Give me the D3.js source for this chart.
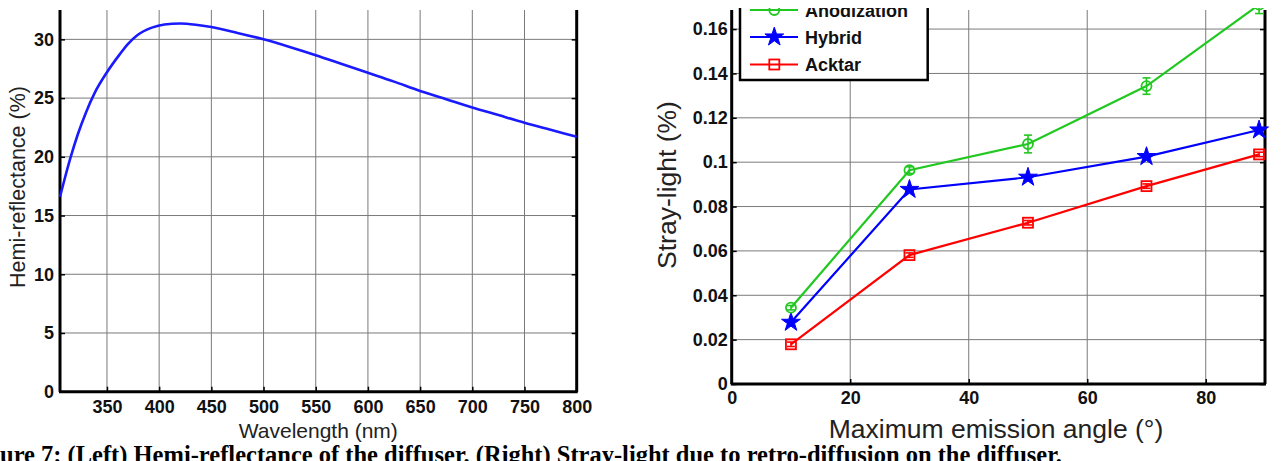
<!DOCTYPE html>
<html><head><meta charset="utf-8">
<script src="https://cdn.jsdelivr.net/npm/d3@7"></script>
<style>body{margin:0;background:#fff}svg{display:block}</style>
</head><body>
<svg id="c" width="1282" height="461"></svg>
<script>
// ---- Left panel data ----
const wavelengths = [305,310,315,322,330,338,350,362,370,379,393,405,420,435,450,475,500,525,550,575,600,625,650,675,700,725,750,775,800];
const reflectance = [16.6,18.3,19.9,21.9,23.8,25.4,27.2,28.7,29.6,30.35,31.0,31.27,31.35,31.25,31.05,30.55,30.0,29.35,28.65,27.9,27.15,26.4,25.6,24.9,24.2,23.55,22.9,22.3,21.7];
const leftXTicks = [350,400,450,500,550,600,650,700,750,800];
const leftYTicks = [0,5,10,15,20,25,30];

// ---- Right panel data ----
const angles = [10,30,50,70,89];
const anodization = [0.0344,0.0964,0.1082,0.1343,0.171];
const anodizationErr = [0.001,0.0015,0.004,0.0037,0.004];
const hybrid = [0.0278,0.0877,0.0932,0.1025,0.1145];
const acktar = [0.0179,0.0581,0.0727,0.0892,0.1035];
const acktarErr = [0.001,0.001,0.001,0.001,0.001];
const seriesNames = ["Anodization","Hybrid","Acktar"];
const rightXTicks = [0,20,40,60,80];
const rightYTicks = [0,0.02,0.04,0.06,0.08,0.1,0.12,0.14,0.16];

const svg = d3.select("#c");
const GRID = "#7a7a7a";
const TICKFONT = "Liberation Sans, Arial, sans-serif";

function panel(opt){
  const g = svg.append("g");
  const x = d3.scaleLinear().domain(opt.xd).range(opt.xr);
  const y = d3.scaleLinear().domain(opt.yd).range(opt.yr);
  const [x0,x1] = opt.xr, [y0,y1] = opt.yr;
  g.append("g").selectAll("line").data(opt.xt.filter(v=>x(v)>x0+1 && x(v)<x1-1)).join("line")
    .attr("x1",d=>x(d)).attr("x2",d=>x(d)).attr("y1",y0).attr("y2",y1)
    .attr("stroke",GRID).attr("stroke-width",1);
  g.append("g").selectAll("line").data(opt.yt.filter(v=>y(v)<y0-1 && y(v)>y1+1)).join("line")
    .attr("y1",d=>y(d)).attr("y2",d=>y(d)).attr("x1",x0).attr("x2",x1)
    .attr("stroke",GRID).attr("stroke-width",1);
  const ax = g.append("g").attr("transform",`translate(0,${y0})`)
    .call(d3.axisBottom(x).tickValues(opt.xt).tickSize(-5).tickPadding(opt.xpad).tickFormat(opt.xf));
  const ayl = g.append("g").attr("transform",`translate(${x0},0)`)
    .call(d3.axisLeft(y).tickValues(opt.yt).tickSize(-5).tickPadding(opt.ypad).tickFormat(opt.yf));
  const ayr = g.append("g").attr("transform",`translate(${x1},0)`)
    .call(d3.axisRight(y).tickValues(opt.yt).tickSize(-5).tickFormat(""));
  [ax,ayl,ayr].forEach(a=>{
    a.select(".domain").remove();
    a.selectAll(".tick line").attr("stroke","#000").attr("stroke-width",1.5);
    a.selectAll("text").attr("font-family",TICKFONT).attr("font-weight","bold")
      .attr("font-size",opt.tfs).attr("fill","#111");
  });
  g.append("line").attr("x1",x0-1).attr("x2",x1+1).attr("y1",y0).attr("y2",y0).attr("stroke","#000").attr("stroke-width",3);
  g.append("line").attr("x1",x0).attr("x2",x0).attr("y1",y0).attr("y2",y1).attr("stroke","#000").attr("stroke-width",3);
  g.append("line").attr("x1",x1).attr("x2",x1).attr("y1",y0).attr("y2",y1).attr("stroke","#000").attr("stroke-width",3);
  return {g,x,y};
}

// ---------- LEFT ----------
const L = panel({xd:[305,800], xr:[60,576.7], yd:[0,32.5], yr:[391.7,10],
  xt:leftXTicks, yt:leftYTicks, xpad:9, ypad:6, tfs:18,
  xf:d3.format("d"), yf:d3.format("d")});
L.g.append("path").datum(wavelengths.map((w,i)=>[w,reflectance[i]]))
  .attr("fill","none").attr("stroke","#1a1aff").attr("stroke-width",2.6)
  .attr("d", d3.line().x(d=>L.x(d[0])).y(d=>L.y(d[1])).curve(d3.curveMonotoneX));
svg.append("text").attr("x",318.3).attr("y",438).attr("text-anchor","middle")
  .attr("font-family",TICKFONT).attr("font-size",21).attr("fill","#222").text("Wavelength (nm)");
svg.append("text").attr("transform","translate(25,187) rotate(-90)").attr("text-anchor","middle")
  .attr("font-family",TICKFONT).attr("font-size",21.5).attr("fill","#222").text("Hemi-reflectance (%)");

// ---------- RIGHT ----------
const R = panel({xd:[0,90], xr:[731.7,1265], yd:[0,0.1686], yr:[384,10],
  xt:rightXTicks, yt:rightYTicks, xpad:7, ypad:4, tfs:18,
  xf:d3.format("d"), yf:d=> d===0?"0":String(+d.toFixed(2))});

svg.append("defs").append("clipPath").attr("id","clipR").append("rect")
  .attr("x",700).attr("y",8).attr("width",600).attr("height",400);
const data = svg.append("g").attr("clip-path","url(#clipR)");
const lineGen = d3.line().x(d=>R.x(d[0])).y(d=>R.y(d[1]));
const colors = {Anodization:"#20c820", Hybrid:"#0000ff", Acktar:"#ff0000"};
const vals = {Anodization:anodization, Hybrid:hybrid, Acktar:acktar};

function errBars(vs, es, col){
  const eg = data.append("g").attr("stroke",col).attr("stroke-width",1.6).attr("fill","none");
  angles.forEach((a,i)=>{
    const cx = R.x(a), yt = R.y(vs[i]+es[i]), yb = R.y(vs[i]-es[i]);
    eg.append("line").attr("x1",cx).attr("x2",cx).attr("y1",yt).attr("y2",yb);
    eg.append("line").attr("x1",cx-4).attr("x2",cx+4).attr("y1",yt).attr("y2",yt);
    eg.append("line").attr("x1",cx-4).attr("x2",cx+4).attr("y1",yb).attr("y2",yb);
  });
}
function marker(gg, name, cx, cy){
  const col = colors[name];
  if(name==="Anodization"){
    gg.append("circle").attr("cx",cx).attr("cy",cy).attr("r",5).attr("fill","none").attr("stroke",col).attr("stroke-width",1.8);
  } else if(name==="Hybrid"){
    gg.append("path").attr("transform",`translate(${cx},${cy})`)
      .attr("d",d3.symbol(d3.symbolStar,110)()).attr("fill",col).attr("stroke",col).attr("stroke-width",1);
  } else {
    gg.append("rect").attr("x",cx-5).attr("y",cy-5).attr("width",10).attr("height",10)
      .attr("fill","none").attr("stroke",col).attr("stroke-width",1.8);
  }
}
seriesNames.slice().reverse().forEach(name=>{
  const vs = vals[name];
  data.append("path").datum(angles.map((a,i)=>[a,vs[i]]))
    .attr("fill","none").attr("stroke",colors[name]).attr("stroke-width",2.2).attr("d",lineGen);
  if(name==="Anodization") errBars(anodization, anodizationErr, colors[name]);
  if(name==="Acktar") errBars(acktar, acktarErr, colors[name]);
  angles.forEach((a,i)=>marker(data, name, R.x(a), R.y(vs[i])));
});

// legend
const lg = data.append("g");
lg.append("rect").attr("x",740).attr("y",-30).attr("width",187.7).attr("height",110)
  .attr("fill","#fff").attr("stroke","#000").attr("stroke-width",2.5);
const rowY = [10,37,64.5];
seriesNames.forEach((name,i)=>{
  lg.append("line").attr("x1",750).attr("x2",798).attr("y1",rowY[i]).attr("y2",rowY[i])
    .attr("stroke",colors[name]).attr("stroke-width",2.2);
  marker(lg, name, 774.3, rowY[i]);
  lg.append("text").attr("x",805).attr("y",rowY[i]+6.5).attr("font-family",TICKFONT)
    .attr("font-weight","bold").attr("font-size",18).attr("fill","#111").text(name);
});

svg.append("text").attr("x",996).attr("y",438).attr("text-anchor","middle")
  .attr("font-family",TICKFONT).attr("font-size",26.5).attr("fill","#222").text("Maximum emission angle (°)");
svg.append("text").attr("transform","translate(676,185) rotate(-90)").attr("text-anchor","middle")
  .attr("font-family",TICKFONT).attr("font-size",26.5).attr("fill","#222").text("Stray-light (%)");

// caption (cut off by the image edges, as in the reference)
const cap = svg.append("text").attr("y",463).attr("font-family","Liberation Serif, Times New Roman, serif")
  .attr("font-weight","bold").attr("font-size",20).attr("fill","#000");
const pre = cap.append("tspan").text("Fig");
cap.append("tspan").text("ure 7: (Left) Hemi-reflectance of the diffuser. (Right) Stray-light due to retro-diffusion on the diffuser.");
const full = cap.node().getComputedTextLength();
const preW = pre.node().getComputedTextLength();
const fs = 20 * 1062 / (full - preW);
cap.attr("font-size", fs);
cap.attr("x", -pre.node().getComputedTextLength());
</script>
</body></html>
